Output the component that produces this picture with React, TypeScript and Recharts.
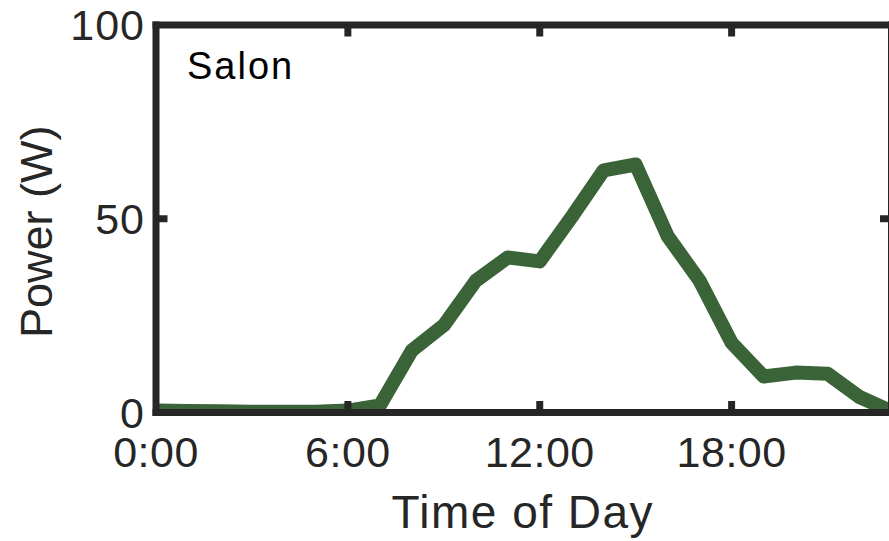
import { LineChart, Line, XAxis, YAxis } from 'recharts'

// Hourly power draw for the "Salon" circuit.
const hours = [0, 1, 2, 3, 4, 5, 6, 7, 8, 9, 10, 11, 12, 13, 14, 15, 16, 17, 18, 19, 20, 21, 22, 23]
const salonPower = [0.5, 0.4, 0.3, 0.2, 0.2, 0.2, 0.5, 1.8, 16, 22.5, 34, 40, 39, 50.5, 62.5, 64, 45.5, 34, 18, 9.3, 10.3, 10, 4, 0.3]

const xTicks = [0, 6, 12, 18]
const xTickLabels = ['0:00', '6:00', '12:00', '18:00']
const yTicks = [0, 50, 100]

const data = hours.map((h, i) => ({ hour: h, power: salonPower[i] }))

const AXIS = '#262626'
const FONT = '"Liberation Sans", Arial, Helvetica, sans-serif'
const TICK_LEN = 11.5 // from axis centre line, so ~8px shows inside the frame
const X_GAP = 24
const Y_GAP = 11

function BottomTick({ x, y, payload }: any) {
  const axisY = y - X_GAP
  const i = xTicks.indexOf(payload.value)
  return (
    <g>
      {payload.value > 0 && <line x1={x} x2={x} y1={axisY} y2={axisY - TICK_LEN} stroke={AXIS} strokeWidth={7} />}
      <text x={x} y={y} dy="0.71em" textAnchor="middle" fontSize={43} letterSpacing={0.5} fill={AXIS} fontFamily={FONT}>
        {i >= 0 ? xTickLabels[i] : payload.value}
      </text>
    </g>
  )
}

function LeftTick({ x, y, payload }: any) {
  const axisX = x + Y_GAP
  const v = payload.value
  return (
    <g>
      {v > 0 && v < 100 && <line x1={axisX} x2={axisX + TICK_LEN} y1={y} y2={y} stroke={AXIS} strokeWidth={7} />}
      <text x={x} y={y} dy="0.355em" textAnchor="end" fontSize={43} letterSpacing={1} fill={AXIS} fontFamily={FONT}>
        {v}
      </text>
    </g>
  )
}

function TopTick({ x, y }: any) {
  return <line x1={x} x2={x} y1={y} y2={y + TICK_LEN} stroke={AXIS} strokeWidth={7} />
}

function RightTick({ x, y }: any) {
  return <line x1={x} x2={x - TICK_LEN} y1={y} y2={y} stroke={AXIS} strokeWidth={7} />
}

const axisLine = { stroke: AXIS, strokeWidth: 7, strokeLinecap: 'square' as const }

export default function App() {
  return (
    <div style={{ position: 'absolute', left: 0, top: 0, width: 889, height: 541, overflow: 'hidden', background: '#fff' }}>
      <LineChart width={900} height={541} data={data} margin={{ top: 24, right: 7.5, bottom: 127.5, left: 155 }}>
        <XAxis
          dataKey="hour"
          type="number"
          domain={[0, 23]}
          allowDataOverflow
          ticks={xTicks}
          interval={0}
          height={1}
          tickSize={0}
          tickMargin={X_GAP}
          tickLine={false}
          axisLine={axisLine}
          tick={<BottomTick />}
          label={{
            content: ({ viewBox }: any) => (
              <text x={viewBox.x + viewBox.width / 2 - 1} y={viewBox.y + 115.5} textAnchor="middle" fontSize={46} letterSpacing={1.5} fill={AXIS} fontFamily={FONT}>
                Time of Day
              </text>
            ),
          }}
        />
        <XAxis
          xAxisId="top"
          orientation="top"
          type="number"
          domain={[0, 23]}
          allowDataOverflow
          ticks={[6, 12, 18]}
          interval={0}
          height={1}
          tickSize={0}
          tickMargin={0}
          tickLine={false}
          axisLine={axisLine}
          tick={<TopTick />}
          label={{
            content: ({ viewBox }: any) => (
              <text x={viewBox.x + 31} y={viewBox.y + viewBox.height + 54} fontSize={38} letterSpacing={2} fill="#000" fontFamily={FONT}>
                Salon
              </text>
            ),
          }}
        />
        <YAxis
          type="number"
          domain={[0, 100]}
          allowDataOverflow
          ticks={yTicks}
          interval={0}
          width={1}
          tickSize={0}
          tickMargin={Y_GAP}
          tickLine={false}
          axisLine={axisLine}
          tick={<LeftTick />}
          label={{
            content: ({ viewBox }: any) => {
              const lx = viewBox.x + viewBox.width - 104
              const ly = viewBox.y + viewBox.height / 2 + 13
              return (
                <text x={lx} y={ly} transform={`rotate(-90 ${lx} ${ly})`} textAnchor="middle" fontSize={45} fill={AXIS} fontFamily={FONT}>
                  Power (W)
                </text>
              )
            },
          }}
        />
        <YAxis
          yAxisId="right"
          orientation="right"
          type="number"
          domain={[0, 100]}
          allowDataOverflow
          ticks={[50]}
          interval={0}
          width={1}
          tickSize={0}
          tickMargin={0}
          tickLine={false}
          axisLine={axisLine}
          tick={<RightTick />}
        />
        <Line
          type="linear"
          dataKey="power"
          stroke="#3a6437"
          strokeWidth={14}
          strokeLinejoin="round"
          dot={false}
          activeDot={false}
          isAnimationActive={false}
        />
      </LineChart>
    </div>
  )
}
